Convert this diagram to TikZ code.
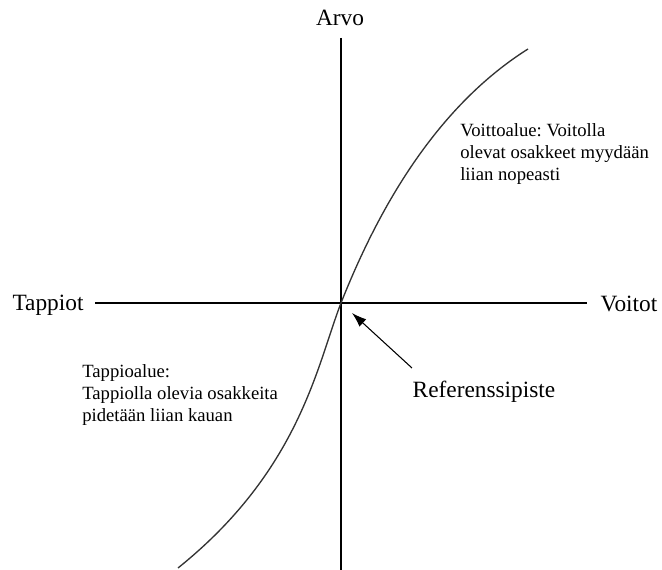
\documentclass[tikz,border=0pt]{standalone}
\usepackage{fontspec}
\setmainfont{Liberation Serif}
\frenchspacing
\usetikzlibrary{arrows, arrows.meta}
\tikzset{axis/.style = {draw, line width = 1.5pt}}
\tikzset{curve/.style = {draw = black!80, line width = 1pt}}
\tikzset{pointer/.style = {-{Latex[length = 11pt, width = 7.5pt]}, line width = 0.8pt}}
\tikzset{axislabel/.style = {font = \fontsize{17.5}{21}\selectfont, inner sep = 0pt}}
\tikzset{note/.style = {font = \fontsize{14}{16.5}\selectfont, align = left, inner sep = 0pt}}

\begin{document}
\begin{tikzpicture}[x = 0.75pt, y = -0.75pt]
				\useasboundingbox (0, 0) rectangle (662, 570);

				\coordinate (o) at (341, 303);
				\coordinate (top) at (341, 38);
				\coordinate (bottom) at (341, 570);
				\coordinate (left) at (95, 303);
				\coordinate (right) at (587, 303);
				\coordinate (low) at (178, 568);
				\coordinate (high) at (528, 49);

				\node[axislabel] (arvo) at (340, 18) {Arvo};
				\node[axislabel] (tappiot) at (48, 305) {Tappiot};
				\node[axislabel] (voitot) at (629, 304) {Voitot};
				\node[axislabel] (ref) at (484, 392) {Referenssipiste};

				\node[note, anchor = west] (voitto) at (460, 154) {Voittoalue: Voitolla\\olevat osakkeet myydään\\liian nopeasti};
				\node[note, anchor = west] (tappio) at (82, 395) {Tappioalue:\\Tappiolla olevia osakkeita\\pidetään liian kauan};

				\draw[axis] (top) to (bottom);
				\draw[axis] (left) to (right);

				\draw[curve] (low) .. controls (300, 470) and (317, 365) .. (o)
					.. controls (372, 225) and (428, 112) .. (high);

				\coordinate (tail) at (412, 368);
				\coordinate (tip) at (352, 313);
				\draw[pointer] (tail) to (tip);
			\end{tikzpicture}
\end{document}
